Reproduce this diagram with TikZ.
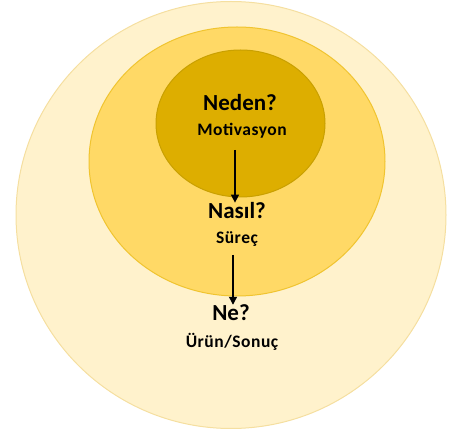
\documentclass[tikz,border=0pt]{standalone}
\usepackage{fontspec}
\setmainfont{Carlito}
\newfontfamily\subfont[LetterSpace=3]{Carlito}
\usetikzlibrary{arrows.meta}
\definecolor{outerfill}{HTML}{FFF2CC}
\definecolor{outerdraw}{HTML}{F5DFA0}
\definecolor{midfill}{HTML}{FFD966}
\definecolor{middraw}{HTML}{F0C430}
\definecolor{innerfill}{HTML}{DDAE00}
\definecolor{innerdraw}{HTML}{C9A000}
\tikzset{
  head/.style={font=\bfseries\fontsize{23}{26}\selectfont, text=black, inner sep=0pt},
  sub/.style={font=\subfont\bfseries\fontsize{17.5}{20}\selectfont, text=black, inner sep=0pt},
  flow/.style={-{Triangle[length=8pt,width=8pt]}, line width=1.3pt, black}
}
\begin{document}
\begin{tikzpicture}[x=1pt,y=-1pt]
\useasboundingbox (0,0) rectangle (453,435);
\fill[outerfill, draw=outerdraw, line width=1pt] (231,215) ellipse [x radius=215, y radius=213.5];
\fill[midfill, draw=middraw, line width=1pt] (237,161.5) ellipse [x radius=148, y radius=134.5];
\fill[innerfill, draw=innerdraw, line width=1pt] (240.5,123.5) ellipse [x radius=84.5, y radius=73.5];
\node[head] (neden) at (240,103) {Neden?};
\node[sub] (motiv) at (242,131) {Motivasyon};
\node[head] (nasil) at (237,211) {Nasıl?};
\node[sub] (surec) at (237,239) {Süreç};
\node[head] (ne) at (231,313) {Ne?};
\node[sub] (urun) at (232,342) {Ürün/Sonuç};
\coordinate (a1s) at (235,150);
\coordinate (a2s) at (233,255);
\draw[flow] (a1s) -- (a1s |- nasil.north);
\draw[flow] (a2s) -- (a2s |- ne.north);
\end{tikzpicture}
\end{document}
